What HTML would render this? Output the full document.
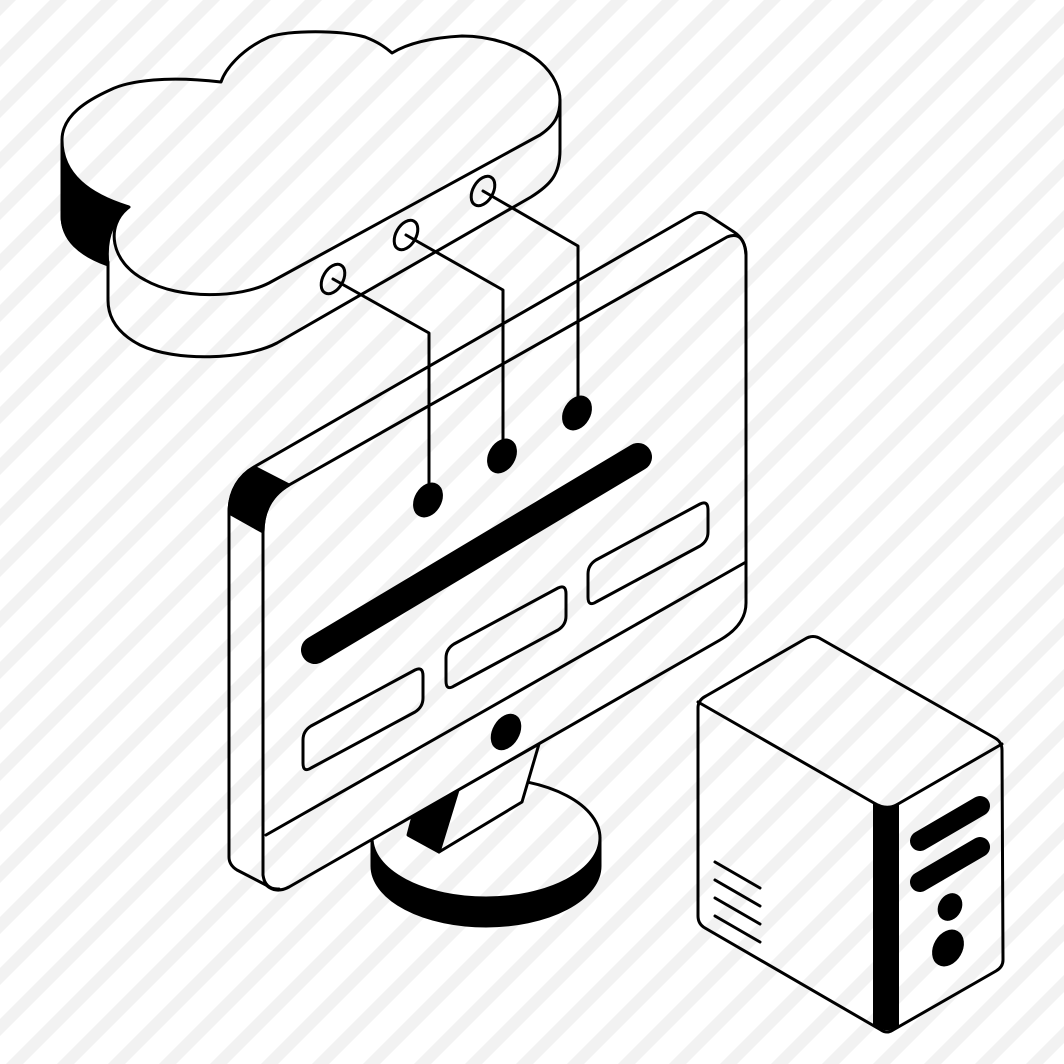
<!DOCTYPE html>
<html><head><meta charset="utf-8"><style>html,body{margin:0;padding:0;background:#fff}svg{display:block}</style></head>
<body>
<svg width="1064" height="1064" viewBox="0 0 1064 1064" xmlns="http://www.w3.org/2000/svg">
<defs>
<pattern id="st" patternUnits="userSpaceOnUse" width="51" height="51">
<rect width="51" height="51" fill="#fff"/>
<g stroke="#f2f2f2" stroke-width="12">
<line x1="-20" y1="27.5" x2="27.5" y2="-20"/>
<line x1="-10" y1="68.5" x2="68.5" y2="-10"/>
<line x1="40" y1="69.5" x2="69.5" y2="40"/>
</g>
</pattern>
</defs>
<rect width="1064" height="1064" fill="url(#st)"/>
<g fill="none" stroke="#000" stroke-width="3" stroke-linejoin="round" stroke-linecap="round">
<!-- cloud -->
<path fill="url(#st)" d="M560,100 L560,150 C560,175 550,185 531,197 L277,343 C245,360 175,362 140,345 C115,332 108,315 108,300 L108,262 C80,255 62,240 62,215 L62,140 Z"/>
<path fill="#000" d="M62,145 C62,175 90,195 129,207 C112,220 105,240 108,265 C80,255 62,240 62,215 Z"/>
<path fill="url(#st)" d="M62,140 C62,115 88,100 110,90 C130,80 169,76 221,82 C225,70 240,50 269,37 C290,30 340,30 365,37 C378,42 385,47 392,53 C405,45 425,38 462,36 C490,36 520,45 540,62 C555,75 560,90 560,100 C560,115 555,125 540,135 L269,283 C240,298 180,300 145,280 C110,262 105,225 129,207 C90,195 62,175 62,140 Z"/>
<ellipse cx="333" cy="279" rx="10" ry="16" transform="rotate(30 333 279)"/>
<ellipse cx="406" cy="235" rx="10" ry="16" transform="rotate(30 406 235)"/>
<ellipse cx="483" cy="191" rx="10" ry="16" transform="rotate(30 483 191)"/>
<!-- base -->
<path fill="#000" d="M372,838 L372,866 A114,60 0 0 0 600,866 L600,838 A114,60 0 0 1 372,838 Z"/>
<ellipse cx="486" cy="838" rx="114" ry="60" fill="url(#st)"/>
<!-- neck -->
<path fill="#000" d="M413,816 L458,790 L439,852 L408,835 Z"/>
<path fill="url(#st)" d="M458,790 L539,744 L522,802 L439,852 Z"/>
<!-- monitor -->
<path fill="url(#st)" d="M254,467 L692,215 Q700,210 708,215 L734,232 Q746,240 746,255 L746,603 Q746,625 720,640 L289,887 Q276,894 266,885 L237,870 Q229,865 229,857 L229,513 C229,490 240,475 254,467 Z"/>
<path fill="#000" d="M254,467 L289,485 C272,495 263,510 263,532 L229,513 C229,490 240,475 254,467 Z"/>
<path d="M263,532 C263,510 272,495 289,485 L727,237 Q744,230 746,255 M263,532 L263,875 Q265,890 279,889"/>
<line x1="266" y1="835" x2="746" y2="562"/>
<line x1="315" y1="650" x2="638" y2="457" stroke-width="28"/>
<path id="b1" d="M303,740 Q303,731 311,726 L415,670 Q423,666 423,676 L423,698 Q423,707 415,712 L311,768 Q303,773 303,763 Z"/>
<use href="#b1" transform="translate(143,-82)"/>
<use href="#b1" transform="translate(285,-166)"/>
<ellipse cx="506" cy="732" rx="12" ry="18" transform="rotate(30 506 732)" fill="#000"/>
<!-- wires -->
<polyline points="333,279 429,333 429,495"/>
<polyline points="406,235 503,290 503,452"/>
<polyline points="483,191 578,246 578,408"/>
<ellipse cx="428" cy="500" rx="12" ry="17" transform="rotate(30 428 500)" fill="#000"/>
<ellipse cx="502" cy="456" rx="12" ry="17" transform="rotate(30 502 456)" fill="#000"/>
<ellipse cx="577" cy="413" rx="12" ry="17" transform="rotate(30 577 413)" fill="#000"/>
<!-- tower -->
<path fill="url(#st)" d="M698,708 Q698,700 706,696 L805,639 Q813,634 821,639 L995,738 Q1002,742 1002,750 L1003,960 Q1003,967 996,971 L893,1030 Q887,1034 881,1030 L705,928 Q698,924 698,916 Z"/>
<path d="M698,702 L874,803 Q887,811 898,804 L1002,744"/>
<path fill="#000" stroke-width="2" d="M874,803 Q887,811 898,804 L898,1025 Q887,1034 874,1024 Z"/>
<g stroke-width="20">
<line x1="920" y1="841" x2="980" y2="806"/>
<line x1="920" y1="882" x2="980" y2="847"/>
</g>
<ellipse cx="950" cy="907" rx="10" ry="13" transform="rotate(30 950 907)" fill="#000"/>
<ellipse cx="948" cy="948" rx="13" ry="18" transform="rotate(30 948 948)" fill="#000"/>
<line x1="715" y1="862" x2="760" y2="888"/>
<line x1="715" y1="880" x2="760" y2="906"/>
<line x1="715" y1="898" x2="760" y2="924"/>
<line x1="715" y1="916" x2="760" y2="942"/>
</g>
</svg>
</body></html>
